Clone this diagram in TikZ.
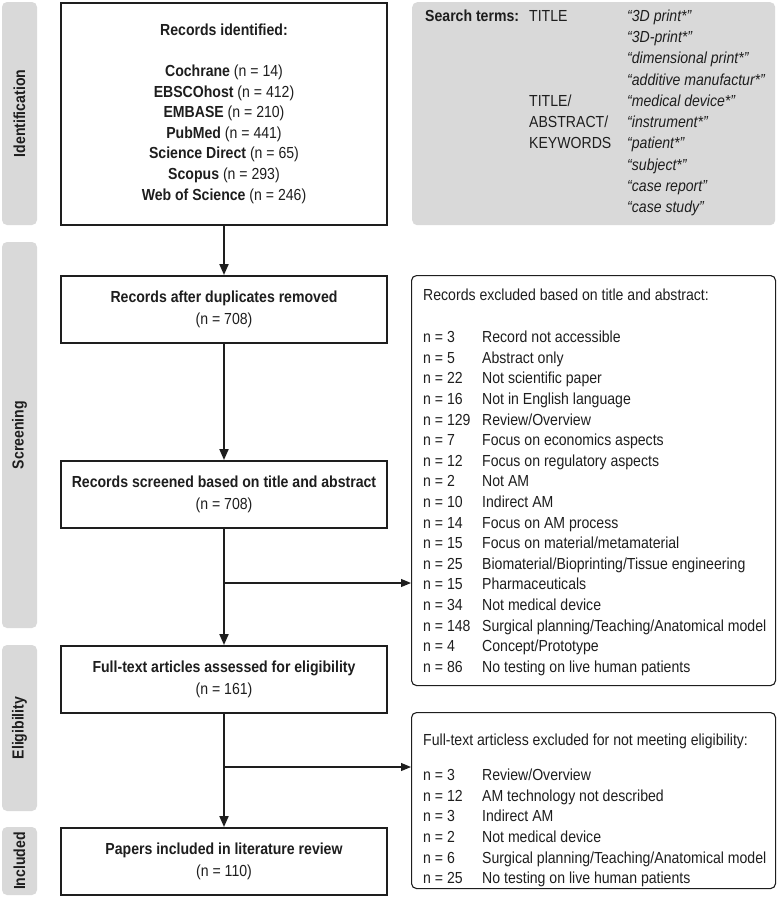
\documentclass[tikz,border=0pt]{standalone}
\usepackage{fontspec}
\setmainfont{Liberation Sans}[FakeStretch=0.88]
\usetikzlibrary{arrows.meta}
\definecolor{bar}{HTML}{D9D9D9}
\definecolor{ink}{HTML}{1E1E1E}
\newcommand{\fs}{\fontsize{16}{20.6}\selectfont}
\begin{document}
\begin{tikzpicture}[x=1pt,y=-1pt,
  every node/.style={text=ink},
  mainbox/.style={draw=ink, line width=2pt, fill=white, minimum width=326pt, minimum height=67pt, align=center, font=\fs, inner sep=0pt},
  sidebar/.style={fill=bar, rounded corners=5pt, rotate=90, minimum height=35pt, inner sep=0pt, font=\fs\bfseries},
  exclbox/.style={draw=ink, line width=1.1pt, rounded corners=5pt, minimum width=364pt, anchor=north west, inner sep=0pt},
  listtext/.style={anchor=north west, inner sep=0pt, font=\fs, align=left},
  mainarrow/.style={draw=ink, line width=2pt, -{Triangle[length=11pt,width=9pt]}},
  brancharrow/.style={draw=ink, line width=1.1pt, -{Triangle[length=10pt,width=8pt]}}
]
\useasboundingbox (0,0) rectangle (777,898);

% side bars
\node[sidebar, minimum width=223pt] (sid) at (19.5,113.5) {Identification};
\node[sidebar, minimum width=386pt] (sscr) at (19.5,435) {Screening};
\node[sidebar, minimum width=166pt] (selig) at (19.5,728) {Eligibility};
\node[sidebar, minimum width=68pt] (sincl) at (19.5,861) {Included};

% main boxes
\node[mainbox, minimum height=222pt] (ident) at (224,113.5)
 {\textbf{Records identified:}\\[20.6pt]
  \textbf{Cochrane} (n = 14)\\
  \textbf{EBSCOhost} (n = 412)\\
  \textbf{EMBASE} (n = 210)\\
  \textbf{PubMed} (n = 441)\\
  \textbf{Science Direct} (n = 65)\\
  \textbf{Scopus} (n = 293)\\
  \textbf{Web of Science} (n = 246)};
\node[mainbox] (dup) at (224,309.5) {\textbf{Records after duplicates removed}\\[1.4pt](n = 708)};
\node[mainbox] (scr) at (224,494.5) {\textbf{Records screened based on title and abstract}\\[1.4pt](n = 708)};
\node[mainbox] (full) at (224,679.5) {\textbf{Full-text articles assessed for eligibility}\\[1.4pt](n = 161)};
\node[mainbox] (incl) at (224,861.5) {\textbf{Papers included in literature review}\\[1.4pt](n = 110)};

% search terms
\node[fill=bar, rounded corners=5pt, minimum width=363pt, minimum height=223pt, anchor=north west, inner sep=0pt] (search) at (412,2) {};
\node[listtext] (searchtxt) at (425,6) {%
  \renewcommand{\arraystretch}{1.034}%
  \begin{tabular}{@{}p{104pt}@{}p{98pt}@{}l@{}}
  \textbf{Search terms:} & TITLE & \textit{“3D print*”}\\
  & & \textit{“3D-print*”}\\
  & & \textit{“dimensional print*”}\\
  & & \textit{“additive manufactur*”}\\
  & TITLE/ & \textit{“medical device*”}\\
  & ABSTRACT/ & \textit{“instrument*”}\\
  & KEYWORDS & \textit{“patient*”}\\
  & & \textit{“subject*”}\\
  & & \textit{“case report”}\\
  & & \textit{“case study”}
  \end{tabular}};

% exclusion boxes
\node[exclbox, minimum height=410pt] (ex1) at (411,275) {};
\node[listtext] (ex1txt) at (423,286) {%
  \begin{tabular}{@{}p{59pt}@{}l@{}}
  \multicolumn{2}{@{}l@{}}{Records excluded based on title and abstract:}\\[21.4pt]
  n = 3 & Record not accessible\\
  n = 5 & Abstract only\\
  n = 22 & Not scientific paper\\
  n = 16 & Not in English language\\
  n = 129 & Review/Overview\\
  n = 7 & Focus on economics aspects\\
  n = 12 & Focus on regulatory aspects\\
  n = 2 & Not AM\\
  n = 10 & Indirect AM\\
  n = 14 & Focus on AM process\\
  n = 15 & Focus on material/metamaterial\\
  n = 25 & Biomaterial/Bioprinting/Tissue engineering\\
  n = 15 & Pharmaceuticals\\
  n = 34 & Not medical device\\
  n = 148 & Surgical planning/Teaching/Anatomical model\\
  n = 4 & Concept/Prototype\\
  n = 86 & No testing on live human patients
  \end{tabular}};

\node[exclbox, minimum height=176pt] (ex2) at (411,712) {};
\node[listtext] (ex2txt) at (423,731) {%
  \begin{tabular}{@{}p{59pt}@{}l@{}}
  \multicolumn{2}{@{}l@{}}{Full-text articless excluded for not meeting eligibility:}\\[14.5pt]
  n = 3 & Review/Overview\\
  n = 12 & AM technology not described\\
  n = 3 & Indirect AM\\
  n = 2 & Not medical device\\
  n = 6 & Surgical planning/Teaching/Anatomical model\\
  n = 25 & No testing on live human patients
  \end{tabular}};

% connectors
\draw[mainarrow] (ident) -- (dup);
\draw[mainarrow] (dup) -- (scr);
\draw[mainarrow] (scr) -- (full);
\draw[mainarrow] (full) -- (incl);
\coordinate (b1) at (224,583);
\coordinate (b2) at (224,767);
\draw[brancharrow] (b1) -- (b1 -| ex1.west);
\draw[brancharrow] (b2) -- (b2 -| ex2.west);
\end{tikzpicture}
\end{document}
